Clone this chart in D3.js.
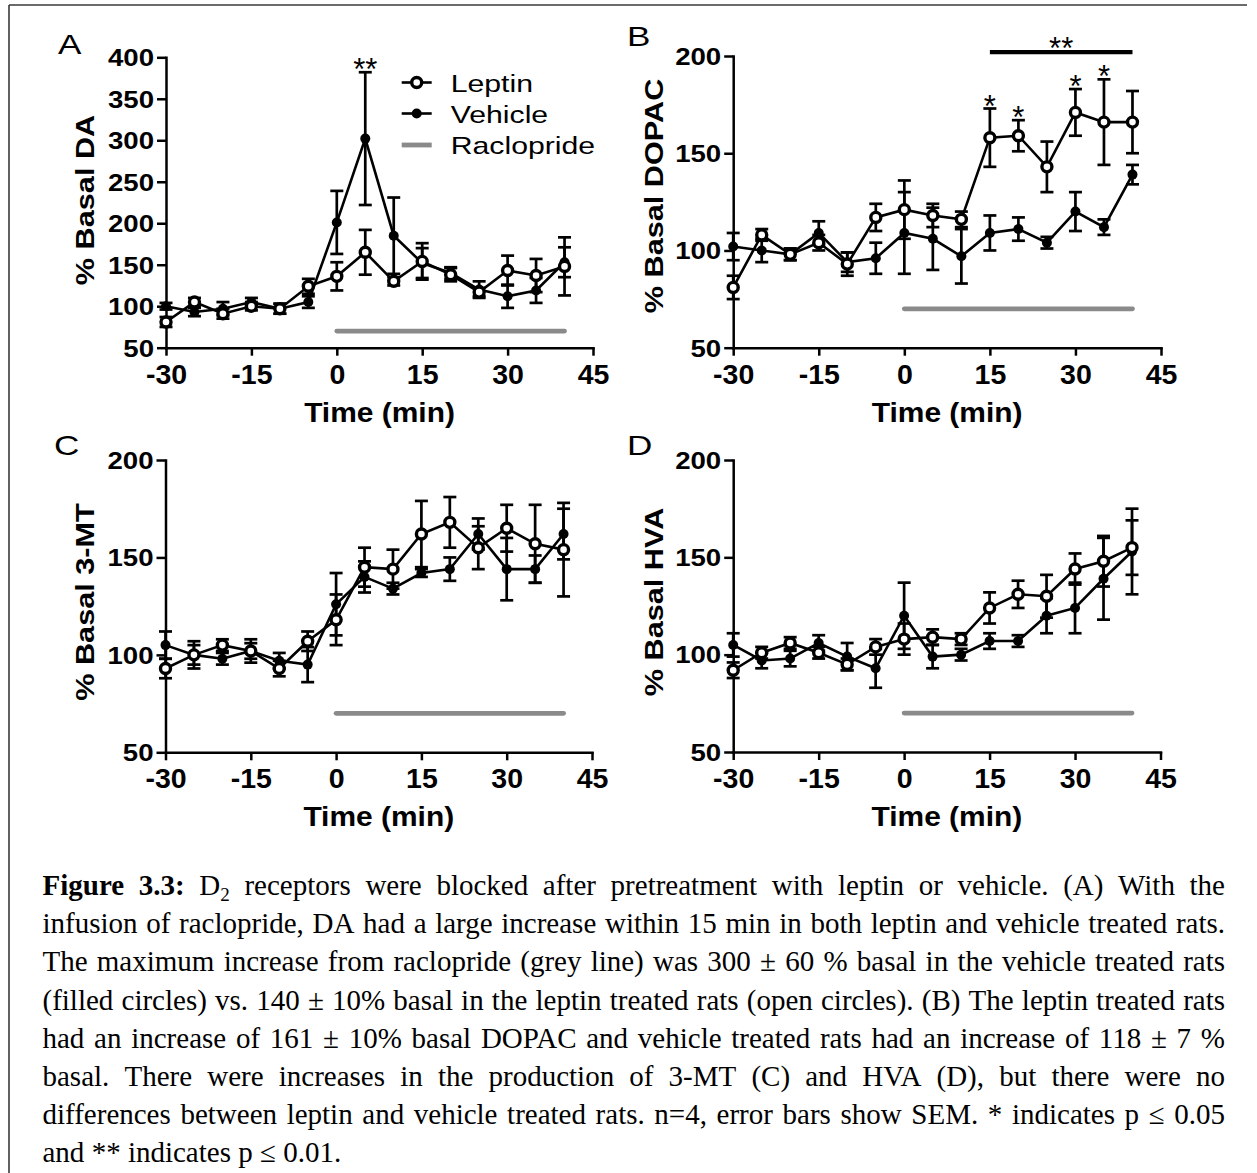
<!DOCTYPE html>
<html>
<head>
<meta charset="utf-8">
<script src="https://cdnjs.cloudflare.com/ajax/libs/d3/7.8.5/d3.min.js"></script>
<style>
  body { margin: 0; background: #fff; }
</style>
</head>
<body>
<svg id="fig" width="1257" height="1173"></svg>
<script>
// sampling times (min) and axis ticks
const times = [-30, -25, -20, -15, -10, -5, 0, 5, 10, 15, 20, 25, 30, 35, 40];
const xTicks = [-30, -15, 0, 15, 30, 45];
const daTicks = [50, 100, 150, 200, 250, 300, 350, 400];
const metTicks = [50, 100, 150, 200];

// raclopride infusion bar
const racloprideSpan = [0, 40];
const racloprideLevel = 70;

// A - DA
const daLeptin      = [81, 105, 91, 100, 97, 124, 136, 165, 130, 154, 138, 117, 143, 137, 148];
const daLeptinSem   = [6, 5, 6, 5, 6, 9, 17, 27, 5, 22, 8, 5, 18, 20, 35];
const daVehicle     = [100, 93, 97, 105, 97, 105, 201, 302, 185, 152, 140, 120, 112, 119, 153];
const daVehicleSem  = [4, 5, 8, 5, 6, 7, 38, 80, 46, 18, 7, 10, 14, 15, 18];

// B - DOPAC
const dopacLeptin     = [81, 108, 98, 104, 93, 117, 121, 118, 116, 158, 159, 143, 171, 166, 166];
const dopacLeptinSem  = [6, 3, 3, 4, 6, 7, 15, 6, 4, 15, 8, 13, 12, 22, 16];
const dopacVehicle    = [102, 100, 98, 109, 94, 96, 109, 106, 97, 109, 111, 104, 120, 112, 139];
const dopacVehicleSem = [7, 6, 3, 6, 5, 8, 21, 16, 14, 9, 6, 3, 10, 4, 5];

// C - 3-MT
const mtLeptin     = [93, 100, 105, 102, 93, 107, 118, 145, 144, 162, 168, 155, 165, 157, 154];
const mtLeptinSem  = [5, 7, 3, 6, 4, 5, 13, 10, 10, 17, 13, 11, 12, 20, 24];
const mtVehicle    = [105, 100, 98, 102, 97, 95, 126, 140, 134, 142, 144, 162, 144, 144, 162];
const mtVehicleSem = [7, 5, 3, 4, 4, 9, 16, 8, 3, 2, 6, 8, 16, 7, 13];

// D - HVA
const hvaLeptin     = [92, 101, 106, 101, 95, 104, 108, 109, 108, 124, 131, 130, 144, 148, 155];
const hvaLeptinSem  = [4, 3, 3, 3, 3, 4, 8, 4, 3, 8, 7, 11, 8, 13, 14];
const hvaVehicle    = [105, 97, 98, 106, 99, 93, 120, 99, 100, 107, 107, 120, 124, 139, 153];
const hvaVehicleSem = [6, 4, 4, 4, 7, 10, 17, 6, 3, 4, 3, 9, 13, 21, 22];

// significance marks
const sigA = [{ time: 5, text: '**' }];
const sigB = [{ time: 15, text: '*' }, { time: 20, text: '*' }, { time: 30, text: '*' }, { time: 35, text: '*' }];
const bracketB = { from: 15, to: 40, level: 202, text: '**' };

const legendItems = ['Leptin', 'Vehicle', 'Raclopride'];

const captionLines = [
  "Figure 3.3: D_2 receptors were blocked after pretreatment with leptin or vehicle. (A) With the",
  "infusion of raclopride, DA had a large increase within 15 min in both leptin and vehicle treated rats.",
  "The maximum increase from raclopride (grey line) was 300 \u00b1 60 % basal in the vehicle treated rats",
  "(filled circles) vs. 140 \u00b1 10% basal in the leptin treated rats (open circles). (B) The leptin treated rats",
  "had an increase of 161 \u00b1 10% basal DOPAC and vehicle treated rats had an increase of 118 \u00b1 7 %",
  "basal. There were increases in the production of 3-MT (C) and HVA (D), but there were no",
  "differences between leptin and vehicle treated rats. n=4, error bars show SEM. * indicates p \u2264 0.05",
  "and ** indicates p \u2264 0.01."
];

const ARIAL = "Arial, 'Liberation Sans', Helvetica, sans-serif";
const TIMES = "'Times New Roman', 'Liberation Serif', Times, serif";
const GREY = '#8a8a8a';

const svg = d3.select('#fig');

// frame
svg.append('line').attr('x1', 9).attr('y1', 5).attr('x2', 1247).attr('y2', 5)
  .attr('stroke', '#3a3a3a').attr('stroke-width', 1.6);
svg.append('line').attr('x1', 9).attr('y1', 5).attr('x2', 9).attr('y2', 1173)
  .attr('stroke', '#3a3a3a').attr('stroke-width', 1.6);

function stretchText(g, x, y, str, o) {
  return g.append('text')
    .attr('transform', `translate(${x},${y}) rotate(${o.rot || 0}) scale(${o.sx || 1},1)`)
    .attr('text-anchor', o.anchor || 'start')
    .style('font-family', ARIAL)
    .style('font-size', o.size + 'px')
    .style('font-weight', o.weight || 'normal')
    .text(str);
}

const panels = [
  { letter: 'A', yLabel: '% Basal DA', yTicks: daTicks,
    leptin: daLeptin, leptinSem: daLeptinSem, vehicle: daVehicle, vehicleSem: daVehicleSem,
    sig: sigA, bracket: null, legend: true,
    box: { left: 166, right: 593, top: 57.3, bottom: 347.7 }, letterPos: [58, 54], yLabelPos: [93.5, 200] },
  { letter: 'B', yLabel: '% Basal DOPAC', yTicks: metTicks,
    leptin: dopacLeptin, leptinSem: dopacLeptinSem, vehicle: dopacVehicle, vehicleSem: dopacVehicleSem,
    sig: sigB, bracket: bracketB, legend: false,
    box: { left: 733.2, right: 1161, top: 56, bottom: 347.7 }, letterPos: [627, 46], yLabelPos: [662.5, 196] },
  { letter: 'C', yLabel: '% Basal 3-MT', yTicks: metTicks,
    leptin: mtLeptin, leptinSem: mtLeptinSem, vehicle: mtVehicle, vehicleSem: mtVehicleSem,
    sig: [], bracket: null, legend: false,
    box: { left: 165.5, right: 592, top: 460, bottom: 752.3 }, letterPos: [54, 455], yLabelPos: [93.5, 602] },
  { letter: 'D', yLabel: '% Basal HVA', yTicks: metTicks,
    leptin: hvaLeptin, leptinSem: hvaLeptinSem, vehicle: hvaVehicle, vehicleSem: hvaVehicleSem,
    sig: [], bracket: null, legend: false,
    box: { left: 733.2, right: 1160.5, top: 460, bottom: 752 }, letterPos: [627, 455], yLabelPos: [662.5, 602] }
];

panels.forEach(p => {
  const b = p.box;
  const g = svg.append('g');
  const x = d3.scaleLinear().domain([xTicks[0], xTicks[xTicks.length - 1]]).range([b.left, b.right]);
  const y = d3.scaleLinear().domain([p.yTicks[0], p.yTicks[p.yTicks.length - 1]]).range([b.bottom, b.top]);

  // raclopride bar
  g.append('line')
    .attr('x1', x(racloprideSpan[0])).attr('x2', x(racloprideSpan[1]))
    .attr('y1', y(racloprideLevel)).attr('y2', y(racloprideLevel))
    .attr('stroke', GREY).attr('stroke-width', 4.8).attr('stroke-linecap', 'round');

  // axes
  const yAxis = g.append('g').attr('transform', `translate(${b.left},0)`)
    .call(d3.axisLeft(y).tickValues(p.yTicks).tickSize(9).tickSizeOuter(0).tickFormat(d => String(d)));
  const xAxis = g.append('g').attr('transform', `translate(0,${b.bottom})`)
    .call(d3.axisBottom(x).tickValues(xTicks).tickSize(8).tickSizeOuter(0).tickFormat(d => String(d)));
  [yAxis, xAxis].forEach(a => {
    a.select('.domain').attr('stroke', '#000').attr('stroke-width', 2.5).attr('stroke-linecap', 'square');
    a.selectAll('.tick line').attr('stroke', '#000').attr('stroke-width', 2.5);
  });
  yAxis.selectAll('.tick text')
    .attr('x', null).attr('dy', null)
    .attr('transform', 'translate(-12,8.3) scale(1.2,1)')
    .attr('fill', '#000')
    .style('font-family', ARIAL).style('font-size', '23px').style('font-weight', 'bold');
  xAxis.selectAll('.tick text')
    .attr('y', 36).attr('dy', null)
    .attr('fill', '#000')
    .style('font-family', ARIAL).style('font-size', '28.5px').style('font-weight', 'bold');

  // titles
  stretchText(g, (b.left + b.right) / 2, b.bottom + 74, 'Time (min)', { size: 28.5, weight: 'bold', sx: 1.05, anchor: 'middle' });
  stretchText(g, p.yLabelPos[0], p.yLabelPos[1], p.yLabel, { size: 26, weight: 'bold', sx: 1.18, rot: -90, anchor: 'middle' });
  stretchText(g, p.letterPos[0], p.letterPos[1], p.letter, { size: 27, sx: 1.3 });

  // series: vehicle first, leptin on top
  const series = [
    { vals: p.vehicle, sem: p.vehicleSem, open: false },
    { vals: p.leptin, sem: p.leptinSem, open: true }
  ];
  const line = d3.line().x((d, i) => x(times[i])).y(d => y(d));
  series.forEach(s => {
    const sg = g.append('g');
    sg.append('path').attr('d', line(s.vals))
      .attr('fill', 'none').attr('stroke', '#000').attr('stroke-width', 2.6);
    const eb = sg.selectAll('g.err').data(s.vals).enter().append('g').attr('class', 'err')
      .attr('stroke', '#000').attr('stroke-width', 2.7);
    eb.append('line')
      .attr('x1', (d, i) => x(times[i])).attr('x2', (d, i) => x(times[i]))
      .attr('y1', (d, i) => y(d - s.sem[i])).attr('y2', (d, i) => y(d + s.sem[i]));
    [-1, 1].forEach(sign => {
      eb.append('line')
        .attr('x1', (d, i) => x(times[i]) - 6.5).attr('x2', (d, i) => x(times[i]) + 6.5)
        .attr('y1', (d, i) => y(d + sign * s.sem[i])).attr('y2', (d, i) => y(d + sign * s.sem[i]));
    });
    sg.selectAll('circle').data(s.vals).enter().append('circle')
      .attr('cx', (d, i) => x(times[i])).attr('cy', d => y(d))
      .attr('r', s.open ? 5 : 5)
      .attr('fill', s.open ? '#fff' : '#000')
      .attr('stroke', '#000').attr('stroke-width', s.open ? 3.4 : 0);
  });

  // significance stars
  p.sig.forEach(m => {
    const i = times.indexOf(m.time);
    const top = Math.max(p.leptin[i] + p.leptinSem[i], p.vehicle[i] + p.vehicleSem[i]);
    g.append('text').attr('x', x(m.time)).attr('y', y(top) + 8)
      .attr('text-anchor', 'middle')
      .style('font-family', ARIAL).style('font-size', '31px')
      .text(m.text);
  });
  if (p.bracket) {
    const br = p.bracket;
    g.append('line').attr('x1', x(br.from)).attr('x2', x(br.to))
      .attr('y1', y(br.level)).attr('y2', y(br.level))
      .attr('stroke', '#000').attr('stroke-width', 4.2);
    g.append('text').attr('x', x((br.from + br.to) / 2)).attr('y', y(br.level) + 7)
      .attr('text-anchor', 'middle')
      .style('font-family', ARIAL).style('font-size', '31px')
      .text(br.text);
  }

  if (p.legend) {
    const lg = g.append('g');
    const rowY = [82.5, 113.5, 145];
    legendItems.forEach((name, k) => {
      const yy = rowY[k];
      lg.append('line').attr('x1', 401.7).attr('x2', 431.7).attr('y1', yy).attr('y2', yy)
        .attr('stroke', k === 2 ? GREY : '#000').attr('stroke-width', k === 2 ? 4.8 : 2.6);
      if (k < 2) {
        lg.append('circle').attr('cx', 416.7).attr('cy', yy)
          .attr('r', 5)
          .attr('fill', k === 0 ? '#fff' : '#000')
          .attr('stroke', '#000').attr('stroke-width', k === 0 ? 3.4 : 0);
      }
      stretchText(lg, 450.7, yy + 9, name, { size: 24, sx: 1.26 });
    });
  }
});

// caption, justified like the source document
const capLeft = 42.5, capRight = 1225, capTop = 895, capStep = 38.2, capSize = 29;
const meas = svg.append('text').attr('visibility', 'hidden')
  .style('font-family', TIMES).style('font-size', capSize + 'px');

function fillToken(sel, tok, bold) {
  sel.selectAll('tspan').remove();
  sel.style('font-weight', bold ? 'bold' : 'normal');
  const m = tok.match(/^(.*)_(\d)$/);
  if (m) {
    sel.append('tspan').text(m[1]);
    sel.append('tspan').attr('dy', 6).style('font-size', '19px').text(m[2]);
  } else {
    sel.append('tspan').text(tok);
  }
}
function tokenWidth(tok, bold) {
  fillToken(meas, tok, bold);
  return meas.node().getComputedTextLength();
}
const spaceW = tokenWidth('a a', false) - tokenWidth('aa', false);

const cap = svg.append('g');
captionLines.forEach((ln, li) => {
  const toks = ln.split(' ');
  const bold = toks.map((t, wi) => li === 0 && wi < 2);
  const widths = toks.map((t, wi) => tokenWidth(t, bold[wi]));
  const total = d3.sum(widths);
  const last = li === captionLines.length - 1;
  let gap = last ? spaceW : (capRight - capLeft - total) / (toks.length - 1);
  if (gap < spaceW * 0.6) gap = spaceW * 0.6;
  let cx = capLeft;
  const yy = capTop + li * capStep;
  toks.forEach((t, wi) => {
    const te = cap.append('text').attr('x', cx).attr('y', yy)
      .style('font-family', TIMES).style('font-size', capSize + 'px').attr('fill', '#000');
    fillToken(te, t, bold[wi]);
    cx += widths[wi] + gap;
  });
});
meas.remove();
</script>
</body>
</html>
